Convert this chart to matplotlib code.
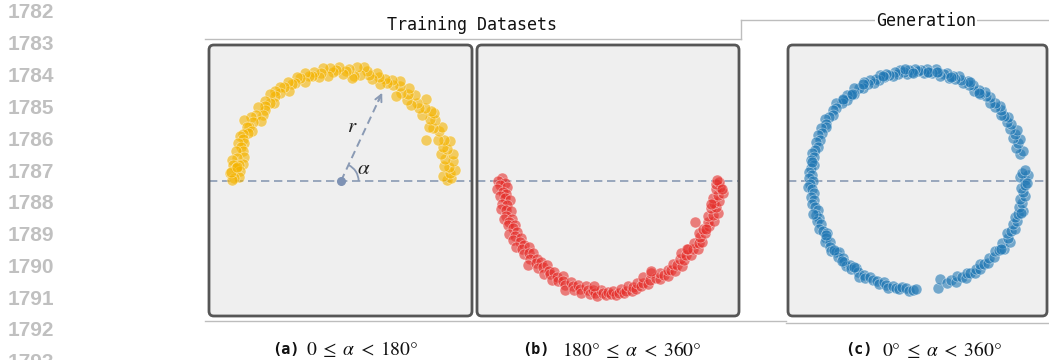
import numpy as np
import matplotlib
matplotlib.use("Agg")
import matplotlib.pyplot as plt
from matplotlib.patches import FancyBboxPatch, Arc
from matplotlib.lines import Line2D

# ---------------- data (polar: angle in degrees, radius) ----------------
yellow_angle = [
    0.5, 1.5, 2.8, 4.0, 5.5, 7.5, 8.2, 10.1, 12.0, 13.5,
    15.2, 17.0, 18.4, 20.1, 21.6, 23.0, 25.6, 27.0, 28.3, 30.0,
    31.5, 33.2, 34.8, 36.0, 38.0, 39.5, 41.2, 43.0, 44.0, 45.8,
    47.5, 49.0, 50.5, 52.4, 54.0, 55.6, 57.0, 58.2, 59.5, 61.3,
    63.0, 65.0, 66.4, 68.0, 70.0, 71.5, 73.2, 75.0, 76.6, 78.5,
    80.0, 82.0, 83.2, 84.0, 85.7, 87.3, 89.0, 91.0, 92.4, 94.0,
    95.8, 97.2, 99.0, 100.5, 102.0, 103.8, 105.3, 107.0, 108.6, 110.2,
    111.8, 113.0, 115.0, 116.5, 118.2, 120.0, 121.4, 123.0, 124.8, 126.3,
    128.0, 129.0, 130.7, 132.0, 133.6, 135.2, 137.0, 138.4, 140.0, 142.0,
    143.0, 144.6, 146.2, 148.0, 149.3, 150.0, 151.0, 152.8, 154.5, 156.0,
    157.0, 158.6, 160.0, 161.0, 162.7, 164.2, 166.0, 167.5, 169.0, 170.2,
    171.0, 171.7, 173.0, 174.4, 176.0, 177.5, 178.6, 179.4, 175.2, 172.3,
]
yellow_r = [
    0.96, 1.00, 0.93, 0.99, 1.04, 0.99, 0.95, 1.03, 0.97, 1.05,
    0.94, 1.01, 0.98, 1.06, 1.01, 0.96, 0.86, 1.00, 1.04, 0.97,
    0.94, 1.02, 0.99, 1.05, 1.04, 0.95, 1.01, 0.97, 1.07, 0.99,
    0.94, 1.03, 0.95, 1.00, 1.05, 0.97, 0.92, 1.02, 1.05, 0.99,
    1.03, 0.98, 1.01, 0.95, 1.01, 1.04, 0.97, 1.00, 1.03, 1.06,
    0.98, 1.05, 0.96, 0.94, 1.02, 1.00, 0.97, 1.04, 1.01, 0.99,
    1.03, 0.96, 1.04, 1.00, 0.97, 1.02, 0.99, 1.00, 1.04, 0.96,
    1.01, 1.03, 0.98, 0.99, 1.02, 0.95, 1.00, 1.02, 0.97, 1.01,
    0.98, 1.02, 0.94, 0.96, 1.00, 0.97, 0.95, 1.01, 0.93, 0.98,
    0.91, 1.00, 0.96, 1.04, 0.97, 0.99, 0.93, 0.95, 0.99, 1.01,
    0.97, 0.95, 1.00, 0.96, 0.93, 0.99, 0.91, 0.97, 1.01, 0.90,
    0.94, 0.99, 0.96, 0.92, 1.01, 0.93, 0.97, 0.99, 1.00, 0.95,
]

red_angle = [
    178.5, 180.2, 181.0, 182.3, 183.5, 184.2, 185.8, 187.0, 188.1, 189.5,
    190.6, 192.0, 193.4, 194.5, 196.0, 197.2, 198.6, 200.0, 201.1, 202.5,
    203.8, 205.0, 206.4, 207.8, 209.0, 210.3, 211.5, 213.0, 214.2, 215.5,
    216.8, 218.0, 219.5, 220.7, 222.0, 223.4, 224.6, 226.0, 227.2, 228.5,
    229.8, 231.0, 232.4, 233.6, 235.0, 236.3, 237.5, 239.0, 240.2, 241.6,
    243.0, 244.2, 245.5, 247.0, 248.3, 249.6, 251.0, 252.3, 253.5, 255.0,
    256.2, 257.6, 259.0, 260.3, 261.5, 263.0, 264.2, 265.6, 267.0, 268.3,
    269.5, 271.0, 272.2, 273.6, 275.0, 276.3, 277.6, 279.0, 280.2, 281.6,
    283.0, 284.3, 285.6, 287.0, 288.2, 289.6, 291.0, 292.4, 294.5, 296.0,
    297.5, 299.0, 300.6, 302.0, 303.5, 305.0, 306.2, 307.6, 309.0, 310.5,
    312.0, 313.6, 315.0, 316.4, 318.0, 319.5, 321.0, 322.6, 324.0, 325.5,
    327.0, 328.6, 330.0, 331.5, 333.0, 334.6, 336.0, 337.6, 339.0, 340.5,
    342.0, 343.6, 345.0, 346.5, 348.0, 349.6, 351.0, 352.5, 354.0, 355.5,
    357.0, 358.2, 359.3, 360.4, 356.0, 347.2, 333.8, 318.7, 295.2, 262.0,
]
red_r = [
    0.97, 1.01, 0.95, 0.99, 0.93, 1.02, 0.97, 0.94, 1.00, 0.96,
    0.92, 0.99, 0.95, 1.01, 0.97, 0.93, 0.99, 1.02, 0.95, 0.98,
    1.00, 0.94, 0.97, 1.03, 0.96, 0.99, 1.02, 0.95, 0.98, 1.04,
    0.97, 1.00, 0.94, 1.02, 0.98, 0.95, 1.01, 1.06, 0.97, 1.00,
    0.96, 1.02, 0.99, 0.95, 1.03, 0.98, 1.00, 0.97, 1.04, 0.99,
    1.02, 0.96, 1.00, 1.03, 1.07, 0.98, 1.01, 1.04, 0.99, 1.02,
    1.05, 0.98, 1.01, 1.04, 1.00, 1.03, 1.05, 0.99, 1.02, 1.04,
    1.01, 1.03, 1.00, 1.04, 1.02, 0.99, 1.03, 1.01, 0.97, 1.02,
    0.99, 1.01, 0.96, 1.00, 0.98, 0.93, 1.00, 0.97, 0.92, 0.98,
    1.00, 0.96, 0.99, 1.02, 0.97, 0.99, 1.01, 0.95, 0.98, 1.02,
    0.96, 0.99, 0.92, 0.97, 1.00, 0.95, 0.98, 1.02, 0.96, 0.99,
    1.01, 0.97, 0.94, 0.99, 0.96, 0.87, 1.00, 0.97, 1.02, 0.95,
    0.99, 1.03, 0.96, 1.00, 0.98, 1.02, 0.96, 1.00, 1.04, 0.98,
    1.01, 0.97, 1.00, 0.98, 1.03, 0.95, 0.98, 0.94, 0.90, 0.96,
]

blue_angle = [
    0.5, 2.0, 3.2, 4.5, 6.0, 14.5, 16.0, 18.2, 20.5, 22.0,
    24.0, 25.5, 27.2, 29.0, 31.0, 33.0, 35.0, 36.6, 38.2, 40.0,
    42.0, 43.5, 45.0, 47.0, 49.0, 51.0, 52.5, 54.0, 56.0, 58.0,
    60.0, 61.5, 63.0, 65.0, 66.5, 68.0, 69.5, 71.0, 73.0, 74.5,
    76.0, 77.5, 79.0, 80.5, 82.0, 83.5, 85.0, 86.5, 88.0, 89.5,
    91.0, 92.5, 94.0, 95.5, 97.0, 98.5, 100.0, 101.5, 103.0, 104.5,
    106.0, 107.5, 109.0, 110.5, 112.0, 113.5, 115.0, 116.5, 118.0, 120.0,
    122.0, 124.0, 126.0, 127.5, 129.0, 131.0, 132.5, 134.0, 136.0, 138.0,
    140.0, 142.0, 144.0, 146.0, 148.0, 149.5, 151.0, 153.0, 155.0, 157.0,
    159.0, 161.0, 163.0, 165.0, 167.0, 169.0, 171.0, 173.0, 175.0, 177.0,
    178.5, 180.0, 181.5, 183.0, 184.5, 186.5, 188.5, 190.5, 192.5, 194.5,
    196.5, 198.5, 200.5, 202.0, 204.0, 206.0, 208.0, 210.0, 212.0, 213.5,
    215.0, 217.0, 219.0, 221.0, 222.5, 224.0, 226.0, 228.0, 230.0, 231.5,
    233.0, 235.0, 237.0, 239.0, 240.5, 242.0, 244.0, 246.0, 248.0, 250.0,
    252.0, 253.5, 255.0, 257.0, 259.0, 260.5, 262.0, 264.0, 266.0, 268.0,
    269.5, 281.0, 283.0, 286.5, 289.0, 291.0, 293.0, 295.0, 297.0, 298.5,
    300.0, 302.0, 304.0, 305.5, 307.0, 309.0, 311.0, 313.0, 315.5, 318.0,
    320.0, 322.0, 324.0, 326.5, 328.0, 330.0, 332.0, 334.0, 336.0, 338.0,
    340.0, 342.0, 344.0, 346.0, 348.0, 350.0, 352.0, 354.0, 356.0, 358.0,
    359.0, 343.0, 321.0, 233.8, 227.0, 220.0, 211.0, 197.5, 170.0, 132.0,
    126.8, 118.8, 108.0, 96.0, 92.0, 84.0, 79.8, 72.0, 62.0, 55.0,
]
blue_r = [
    0.98, 0.94, 1.01, 0.96, 0.99, 0.97, 1.00, 0.95, 0.98, 1.01,
    0.96, 0.99, 1.02, 0.97, 1.00, 0.98, 1.01, 0.99, 0.97, 1.00,
    1.02, 0.98, 1.00, 0.97, 1.01, 0.99, 1.02, 0.98, 1.00, 0.97,
    1.01, 0.99, 1.02, 0.98, 1.00, 1.03, 0.99, 1.01, 0.98, 1.02,
    1.00, 0.98, 1.01, 1.03, 0.99, 1.00, 1.02, 0.98, 1.01, 1.00,
    1.02, 0.99, 1.01, 0.98, 1.00, 1.02, 0.99, 1.01, 0.98, 1.00,
    1.01, 0.99, 1.02, 0.98, 1.00, 0.97, 1.01, 0.99, 1.02, 0.98,
    1.00, 1.02, 0.98, 0.99, 1.01, 0.97, 1.00, 0.98, 1.02, 0.99,
    1.00, 0.97, 0.99, 1.01, 0.98, 0.96, 1.00, 0.97, 0.99, 0.96,
    0.98, 0.95, 0.97, 0.99, 0.96, 0.98, 0.95, 0.97, 0.99, 0.96,
    0.98, 0.95, 0.97, 0.99, 0.96, 0.94, 0.97, 0.95, 0.98, 0.96,
    0.94, 0.97, 0.95, 0.98, 0.96, 0.99, 0.97, 0.95, 0.98, 1.00,
    0.97, 0.99, 1.01, 0.98, 0.96, 1.00, 0.97, 0.99, 1.01, 0.98,
    1.00, 0.97, 0.99, 1.02, 0.98, 1.00, 0.97, 0.99, 0.98, 1.00,
    0.97, 0.99, 1.01, 0.98, 0.99, 1.00, 0.97, 0.98, 1.00, 0.99,
    0.98, 0.99, 0.91, 0.97, 0.95, 0.98, 0.94, 0.96, 0.99, 0.95,
    0.97, 0.99, 0.96, 0.98, 0.95, 0.97, 0.99, 0.96, 0.98, 0.95,
    0.97, 1.00, 0.96, 1.01, 0.98, 0.95, 0.97, 0.99, 0.96, 0.98,
    0.95, 0.97, 1.00, 0.96, 0.98, 0.95, 0.99, 0.97, 0.95, 0.98,
    1.00, 0.99, 0.98, 0.97, 1.00, 0.98, 0.96, 0.99, 0.97, 1.00,
    0.99, 1.01, 1.00, 1.02, 0.98, 1.00, 1.01, 0.99, 1.02, 0.98,
]

line_numbers = [str(n) for n in range(1782, 1794)]
panel_labels = ["(a)", "(b)", "(c)"]
panel_ranges = [r"$0\;\leq\;\alpha\;<\;180°$", r"$180°\;\leq\;\alpha\;<\;360°$",
                r"$0°\;\leq\;\alpha\;<\;360°$"]
arrow_angle_deg = 65

# ---------------- figure ----------------
W, H = 1049, 360
fig = plt.figure(figsize=(W / 100, H / 100), dpi=100)
plt.rcParams["mathtext.fontset"] = "stix"

R = 110.0  # pixels per unit radius


def fx(px):
    return px / W


def fy(py):
    return 1 - py / H


def make_panel(left, right, top, bottom, cx):
    ax = fig.add_axes([fx(left), fy(bottom), (right - left) / W, (bottom - top) / H])
    ax.set_xlim((left - cx) / R, (right - cx) / R)
    cy = 181
    ax.set_ylim((cy - bottom) / R, (cy - top) / R)
    ax.axis("off")
    bg = FancyBboxPatch((0, 0), 1, 1, boxstyle="round,pad=0,rounding_size=0.018",
                        transform=ax.transAxes, facecolor="#efefef", edgecolor="none",
                        zorder=0, clip_on=False)
    ax.add_patch(bg)
    border = FancyBboxPatch((0, 0), 1, 1, boxstyle="round,pad=0,rounding_size=0.018",
                            transform=ax.transAxes, facecolor="none", edgecolor="#565656",
                            lw=2.0, zorder=10, clip_on=False)
    ax.add_patch(border)
    ax.axhline(0, color="#8a9ab4", lw=1.2, ls=(0, (5, 2.8)), zorder=1)
    return ax


def scatter_polar(ax, ang, rad, color):
    a = np.deg2rad(np.asarray(ang))
    r = np.asarray(rad)
    ax.scatter(r * np.cos(a), r * np.sin(a), s=62, c=color, alpha=0.6,
               edgecolors="white", linewidths=0.4, zorder=3)


ax_a = make_panel(209, 472, 45, 316, 341)
ax_b = make_panel(477, 739, 45, 316, 609)
ax_c = make_panel(788, 1047, 45, 316, 917)

scatter_polar(ax_a, yellow_angle, yellow_r, "#f5b400")
scatter_polar(ax_b, red_angle, red_r, "#e5302c")
scatter_polar(ax_c, blue_angle, blue_r, "#1f77b4")

# radius arrow / angle annotation in panel (a)
th = np.deg2rad(arrow_angle_deg)
L = 0.87
ax_a.plot([0, L * np.cos(th)], [0, L * np.sin(th)], color="#8a9ab4", lw=1.4,
          ls=(0, (4, 2.5)), zorder=4)
ax_a.annotate("", xy=(0.885 * np.cos(th), 0.885 * np.sin(th)),
              xytext=(0.80 * np.cos(th), 0.80 * np.sin(th)),
              arrowprops=dict(arrowstyle="->", color="#8a9ab4", lw=1.4,
                              mutation_scale=12, shrinkA=0, shrinkB=0), zorder=4)
ax_a.plot([0], [0], "o", color="#7e92b4", ms=5.5, zorder=5)
ax_a.add_patch(Arc((0, 0), 0.32, 0.32, theta1=0, theta2=arrow_angle_deg,
                   color="#8a9ab4", lw=1.3, zorder=4))
ax_a.text(0.10, 0.50, r"$r$", fontsize=15, ha="center", va="center", color="#222222")
ax_a.text(0.21, 0.12, r"$\alpha$", fontsize=15, ha="center", va="center", color="#222222")

# ---------------- decorations ----------------
line_c = "#bdbdbd"
fig.add_artist(Line2D([fx(205), fx(741)], [fy(39), fy(39)], color=line_c, lw=1.0))
fig.add_artist(Line2D([fx(741), fx(741)], [fy(39), fy(20)], color=line_c, lw=1.0))
fig.add_artist(Line2D([fx(741), fx(1049)], [fy(20), fy(20)], color=line_c, lw=1.0))
fig.add_artist(Line2D([fx(205), fx(786)], [fy(321), fy(321)], color=line_c, lw=1.0))
fig.add_artist(Line2D([fx(786), fx(1049)], [fy(323), fy(323)], color=line_c, lw=1.0))

fig.text(fx(472), fy(25), "Training Datasets", family="DejaVu Sans Mono", fontsize=12,
         ha="center", va="center", color="#111111")
fig.text(fx(926), fy(21), "Generation", family="DejaVu Sans Mono", fontsize=12,
         ha="center", va="center", color="#111111",
         bbox=dict(facecolor="white", edgecolor="none", pad=0.5))

label_x = [272, 522, 845]
range_x = [306, 562, 882]
for lab, rng, lx, rx in zip(panel_labels, panel_ranges, label_x, range_x):
    fig.text(fx(lx), fy(349), lab, family="DejaVu Sans Mono", fontsize=11,
             fontweight="bold", ha="left", va="center", color="#111111")
    fig.text(fx(rx), fy(349), rng, fontsize=14, ha="left", va="center", color="#111111")

for i, t in enumerate(line_numbers):
    fig.text(fx(8), fy(13 + 31.8 * i), t, family="Liberation Sans", fontsize=15,
             fontweight="bold", ha="left", va="center", color="#c0c0c0")

fig.savefig("out.png", dpi=100)
